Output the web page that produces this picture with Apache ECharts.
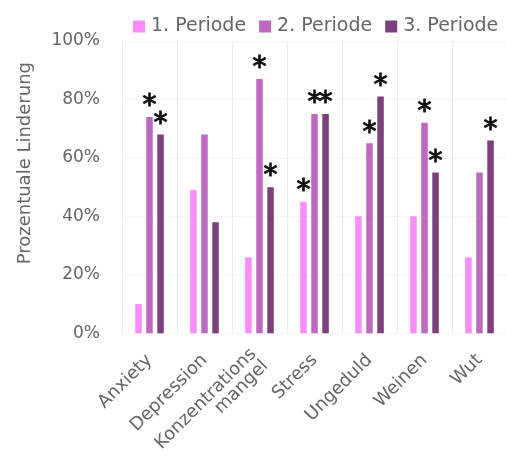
<!DOCTYPE html>
<html>
<head>
<meta charset="utf-8">
<script src="https://cdn.jsdelivr.net/npm/echarts@6/dist/echarts.min.js"></script>
<style>
  html, body { margin: 0; padding: 0; background: #ffffff; }
  #chart { width: 507px; height: 467px; }
</style>
</head>
<body>
<div id="chart"></div>
<script>
// Symptom categories on the x axis
const categories = ['Anxiety', 'Depression', 'Konzentrations\nmangel', 'Stress', 'Ungeduld', 'Weinen', 'Wut'];
const seriesNames = ['1. Periode', '2. Periode', '3. Periode'];

// Percentage relief per period
const periode1 = [10, 49, 26, 45, 40, 40, 26];
const periode2 = [74, 68, 87, 75, 65, 72, 55];
const periode3 = [68, 38, 50, 75, 81, 55, 66];

// Significance markers (1 = significant, drawn as an asterisk)
const sig1 = [0, 0, 0, 1, 0, 0, 0];
const sig2 = [1, 0, 1, 1, 1, 1, 0];
const sig3 = [1, 0, 1, 1, 1, 1, 1];

const yTicks = [0, 20, 40, 60, 80, 100];

const colors = ['#fc8cfc', '#bd69bd', '#7d3f7d'];
const fontFamily = '"DejaVu Sans", Verdana, sans-serif';
const textColor = '#666666';

function buildData(values, sig) {
  return values.map((v, i) => ({
    value: v,
    label: { show: sig[i] === 1 }
  }));
}

const valueSets = [periode1, periode2, periode3];
const sigSets = [sig1, sig2, sig3];

const chart = echarts.init(document.getElementById('chart'), null, { renderer: 'canvas' });

chart.setOption({
  animation: false,
  color: colors,
  legend: {
    data: seriesNames,
    top: 12,
    left: 128,
    itemWidth: 12,
    itemHeight: 12,
    itemGap: 13,
    icon: 'rect',
    textStyle: { color: textColor, fontSize: 19, fontFamily: fontFamily, padding: [0, 0, 0, 1] }
  },
  grid: { left: 122, right: -2, top: 41, bottom: 130, containLabel: false },
  xAxis: {
    type: 'category',
    data: categories,
    axisLine: { show: false },
    axisTick: { show: false },
    splitLine: { show: true, lineStyle: { color: '#ececec', width: 1 } },
    axisLabel: {
      interval: 0,
      rotate: 45,
      margin: 24,
      color: textColor,
      fontSize: 18,
      fontFamily: fontFamily,
      lineHeight: 17
    }
  },
  yAxis: {
    type: 'value',
    min: 0,
    max: 100,
    interval: 20,
    name: 'Prozentuale Linderung',
    nameLocation: 'middle',
    nameGap: 88,
    nameRotate: 90,
    nameTextStyle: { color: textColor, fontSize: 18, fontFamily: fontFamily, padding: [0, 0, 0, 48] },
    axisLine: { show: false },
    axisTick: { show: false },
    splitLine: { show: true, lineStyle: { color: '#f6f6f6' } },
    axisLabel: {
      margin: 22,
      color: textColor,
      fontSize: 17,
      fontFamily: fontFamily,
      formatter: v => yTicks.includes(v) ? v + '%' : ''
    }
  },
  series: seriesNames.map((name, s) => ({
    name: name,
    type: 'bar',
    barWidth: 6.5,
    barGap: '70%',
    data: buildData(valueSets[s], sigSets[s]),
    label: {
      position: 'top',
      distance: -4,
      formatter: '*',
      color: '#111111',
      fontSize: 28,
      fontFamily: 'DejaVu Sans',
      textBorderColor: '#111111',
      textBorderWidth: 1
    }
  }))
});
</script>
</body>
</html>
